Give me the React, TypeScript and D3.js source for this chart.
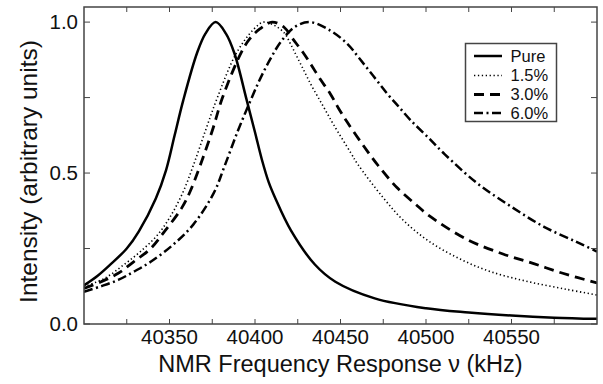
import React from "react";
import * as d3 from "d3";

const pureFreq = [40300, 40308, 40315, 40325, 40332, 40342, 40348, 40353, 40358, 40366, 40371, 40377, 40383, 40388, 40395, 40400, 40404, 40408, 40412, 40421, 40435, 40447, 40470, 40500, 40525, 40550, 40575, 40600];
const pureVals = [0.128, 0.16, 0.195, 0.25, 0.306, 0.416, 0.51, 0.625, 0.74, 0.896, 0.962, 1.0, 0.962, 0.896, 0.745, 0.635, 0.545, 0.47, 0.415, 0.31, 0.197, 0.14, 0.085, 0.052, 0.038, 0.028, 0.021, 0.017];

const p15Freq = [40300, 40312, 40323, 40333, 40343, 40351, 40358, 40364, 40371, 40378, 40389, 40399, 40405, 40411, 40417, 40421, 40425, 40429, 40433, 40437, 40441, 40446, 40456, 40460, 40475, 40487, 40502, 40520, 40538, 40560, 40582, 40600];
const p15Vals = [0.124, 0.151, 0.195, 0.24, 0.295, 0.361, 0.438, 0.526, 0.64, 0.75, 0.896, 0.975, 1.0, 0.99, 0.965, 0.925, 0.88, 0.835, 0.79, 0.75, 0.71, 0.66, 0.567, 0.53, 0.418, 0.342, 0.273, 0.215, 0.173, 0.14, 0.115, 0.096];

const p30Freq = [40300, 40310, 40320, 40329, 40339, 40347, 40357, 40362, 40368, 40375, 40381, 40392, 40397, 40403, 40410, 40417, 40422, 40428, 40433, 40438, 40444, 40449, 40454, 40463, 40472, 40483, 40494, 40502, 40524, 40545, 40563, 40580, 40600];
const p30Vals = [0.118, 0.14, 0.168, 0.206, 0.25, 0.306, 0.383, 0.438, 0.526, 0.64, 0.75, 0.9, 0.945, 0.978, 1.0, 0.983, 0.945, 0.9, 0.857, 0.812, 0.763, 0.713, 0.668, 0.594, 0.525, 0.452, 0.396, 0.358, 0.28, 0.232, 0.2, 0.168, 0.136];

const p60Freq = [40300, 40310, 40320, 40329, 40339, 40352, 40364, 40376, 40382, 40390, 40397, 40403, 40409, 40415, 40423, 40432, 40444, 40454, 40461, 40469, 40477, 40484, 40491, 40500, 40511, 40530, 40550, 40569, 40588, 40600];
const p60Vals = [0.107, 0.125, 0.146, 0.173, 0.206, 0.262, 0.33, 0.435, 0.52, 0.64, 0.735, 0.812, 0.878, 0.934, 0.983, 1.0, 0.972, 0.928, 0.88, 0.823, 0.765, 0.72, 0.675, 0.625, 0.562, 0.466, 0.388, 0.322, 0.272, 0.24];

const seriesNames = ["Pure", "1.5%", "3.0%", "6.0%"];
const xMajorTicks = [40350, 40400, 40450, 40500, 40550];
const xAllTicks = [40325, 40350, 40375, 40400, 40425, 40450, 40475, 40500, 40525, 40550, 40575];
const yMajorTicks = [0, 0.5, 1.0];
const yAllTicks = [0, 0.25, 0.5, 0.75, 1.0];

const W = 603, H = 384;
const L = 84, R = 597, T = 7, B = 324;
const FONT = "'Liberation Sans', Arial, Helvetica, sans-serif";

const styles = [
  { width: 2.5, dash: "none" },
  { width: 1.6, dash: "1.3,2.6" },
  { width: 2.8, dash: "10,6" },
  { width: 2.5, dash: "9,3.5,2,3.5" },
];

export default function App() {
  const x = d3.scaleLinear().domain([40300, 40600]).range([L, R]);
  const y = d3.scaleLinear().domain([0, 1.05]).range([B, T]);
  const line = d3
    .line<[number, number]>()
    .x((d) => x(d[0]))
    .y((d) => y(d[1]))
    .curve(d3.curveCatmullRom.alpha(0.5));

  const series = [
    d3.zip(pureFreq, pureVals) as [number, number][],
    d3.zip(p15Freq, p15Vals) as [number, number][],
    d3.zip(p30Freq, p30Vals) as [number, number][],
    d3.zip(p60Freq, p60Vals) as [number, number][],
  ];

  const legX = 465.5, legY = 43.5, legW = 91, legH = 78;
  const rowY = [56, 75.5, 94.5, 113];

  return (
    <svg width={W} height={H} style={{ position: "absolute", left: 0, top: 0, background: "#fff" }} fontFamily={FONT}>
      <rect x={0} y={0} width={W} height={H} fill="#fff" />
      <defs>
        <clipPath id="plot">
          <rect x={L} y={T} width={R - L} height={B - T} />
        </clipPath>
      </defs>
      <g clipPath="url(#plot)">
        {series.map((s, i) => (
          <path
            key={i}
            d={line(s) || ""}
            fill="none"
            stroke="#000"
            strokeWidth={styles[i].width}
            strokeDasharray={styles[i].dash}
          />
        ))}
      </g>
      {xAllTicks.map((t) => (
        <g key={"xt" + t}>
          <line x1={x(t)} x2={x(t)} y1={B} y2={B - 5} stroke="#444" strokeWidth={1} />
          <line x1={x(t)} x2={x(t)} y1={T} y2={T + 5} stroke="#444" strokeWidth={1} />
        </g>
      ))}
      {yAllTicks.map((t) => (
        <g key={"yt" + t}>
          <line x1={L} x2={L + 6} y1={y(t)} y2={y(t)} stroke="#444" strokeWidth={1} />
          <line x1={R} x2={R - 6} y1={y(t)} y2={y(t)} stroke="#444" strokeWidth={1} />
        </g>
      ))}
      <rect x={L} y={T} width={R - L} height={B - T} fill="none" stroke="#444" strokeWidth={1.5} />
      {xMajorTicks.map((t) => (
        <text key={"xl" + t} x={x(t)} y={344} textAnchor="middle" fontSize={20.5} fill="#111">
          {t}
        </text>
      ))}
      {yMajorTicks.map((t) => (
        <text key={"yl" + t} x={78} y={y(t) + 7.3} textAnchor="end" fontSize={20.5} fill="#111">
          {d3.format(".1f")(t)}
        </text>
      ))}
      <text x={(L + R) / 2} y={372} textAnchor="middle" fontSize={23.5} fill="#111">
        NMR Frequency Response ν (kHz)
      </text>
      <text
        transform={`translate(36.5,171.5) rotate(-90)`}
        textAnchor="middle"
        fontSize={24.5}
        fill="#111"
      >
        Intensity (arbitrary units)
      </text>
      <rect x={legX} y={legY} width={legW} height={legH} fill="#fff" stroke="#444" strokeWidth={1.5} />
      {seriesNames.map((n, i) => (
        <g key={n}>
          <line
            x1={474}
            x2={502}
            y1={rowY[i]}
            y2={rowY[i]}
            stroke="#000"
            strokeWidth={styles[i].width}
            strokeDasharray={styles[i].dash}
          />
          <text x={510.5} y={rowY[i] + 5.8} fontSize={16.5} fill="#111">
            {n}
          </text>
        </g>
      ))}
    </svg>
  );
}
